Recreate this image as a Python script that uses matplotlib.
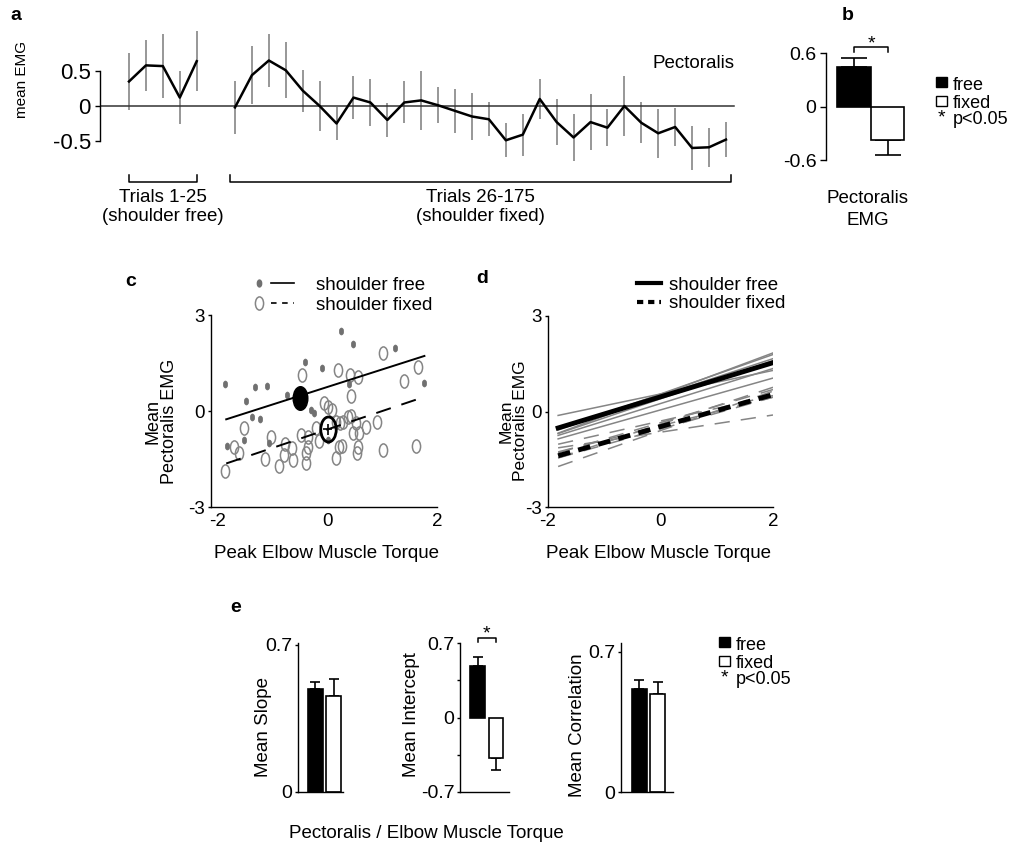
import numpy as np
import matplotlib.pyplot as plt
from matplotlib.lines import Line2D
from matplotlib.patches import Rectangle
from matplotlib.path import Path
from matplotlib.transforms import Affine2D

plt.rcParams['font.family'] = ['Liberation Sans', 'DejaVu Sans']
plt.rcParams['lines.scale_dashes'] = False
plt.rcParams['axes.linewidth'] = 1.0

# ---- a: mean EMG in blocks of 5 trials
emg_free = [0.35, 0.58, 0.57, 0.12, 0.64]
err_free = [0.41, 0.36, 0.46, 0.38, 0.43]
emg_fixed = [-0.02, 0.44, 0.65, 0.51, 0.22, 0.0, -0.25, 0.12, 0.05, -0.20,
             0.05, 0.08, 0.01, -0.07, -0.15, -0.19, -0.49, -0.41, 0.10, -0.23,
             -0.45, -0.23, -0.31, 0.0, -0.24, -0.39, -0.30, -0.60, -0.59, -0.48]
err_fixed = [0.38, 0.41, 0.38, 0.40, 0.30, 0.36, 0.24, 0.31, 0.34, 0.24,
             0.30, 0.42, 0.26, 0.31, 0.34, 0.24, 0.24, 0.30, 0.28, 0.33,
             0.33, 0.40, 0.26, 0.43, 0.29, 0.35, 0.27, 0.32, 0.28, 0.25]

# ---- b: pectoralis EMG free / fixed
pect_mean = [0.45, -0.375]
pect_err = [0.094, 0.172]

# ---- c: single trials (x = peak elbow torque, y = mean pectoralis EMG)
free_x = [0.25, 0.46, -0.41, -0.10, 1.23, 1.77, -1.87, -1.32, -1.11, -1.48,
          -0.74, 0.39, -0.31, -0.25, -1.38, -1.23, -1.53, -1.84, -1.07, 0.00]
free_y = [2.51, 2.08, 1.54, 1.35, 1.98, 0.89, 0.83, 0.74, 0.78, 0.32,
          0.50, 0.84, 0.03, -0.05, -0.20, -0.26, -0.91, -1.09, -0.99, -0.92]
fixed_x = [1.01, 1.66, -0.46, 0.19, 0.41, 0.55, 1.40, 0.43, -0.07, 0.01,
           0.09, -1.52, -1.70, -1.61, -1.87, -1.04, -1.15, -0.77, -0.80, -0.65,
           -0.63, -0.49, -0.40, -0.39, -0.36, -0.21, -0.15, 0.16, 0.22, 0.28,
           0.37, 0.43, 0.52, 0.70, 0.91, 0.46, 0.57, 0.55, 0.54, 0.15,
           0.21, 0.27, 1.01, 1.62, -0.88, -0.35]
fixed_y = [1.80, 1.39, 1.13, 1.28, 1.13, 1.05, 0.95, 0.47, 0.26, 0.11,
           0.03, -0.54, -1.11, -1.30, -1.86, -0.82, -1.51, -1.03, -1.38, -1.17,
           -1.53, -0.75, -1.30, -1.64, -1.11, -0.52, -0.93, -0.33, -0.39, -0.33,
           -0.20, -0.16, -0.36, -0.51, -0.33, -0.70, -0.70, -1.11, -1.30, -1.48,
           -1.11, -1.08, -1.22, -1.09, -1.72, -0.80]
# group means (x, y, xerr, yerr)
mean_free = (-0.50, 0.40, 0.14, 0.0)
mean_fixed = (0.0, -0.57, 0.09, 0.17)
# regression fits: slope, intercept, x range
fit_free = (0.547, 0.752, -1.85, 1.77)
fit_fixed = (0.575, -0.576, -1.85, 1.63)

# ---- d: per subject regression lines
subj_slope_free = [0.37, 0.62, 0.66, 0.58, 0.55, 0.50, 0.60]
subj_icpt_free = [0.55, 0.55, 0.52, 0.50, 0.25, 0.05, 0.40]
subj_slope_fixed = [0.27, 0.62, 0.52, 0.45, 0.58, 0.40, 0.50]
subj_icpt_fixed = [-0.65, -0.60, -0.35, -0.45, -0.40, -0.30, -0.55]
avg_free = (0.537, 0.46)
avg_fixed = (0.503, -0.475)
torque_range = (-1.82, 2.0)

# ---- e: summary bars (free, fixed)
slope_mean = [0.49, 0.459]
slope_err = [0.036, 0.078]
icpt_mean = [0.485, -0.38]
icpt_err = [0.085, 0.116]
corr_mean = [0.514, 0.489]
corr_err = [0.045, 0.06]

W, H = 1011, 850
GREY = '#858585'


def box(x0, y0, x1, y1):
    return [x0 / W, 1 - y1 / H, (x1 - x0) / W, (y1 - y0) / H]


def fx(x):
    return x / W


def fy(y):
    return 1 - y / H


def clean(ax, bottom=True):
    ax.spines['top'].set_visible(False)
    ax.spines['right'].set_visible(False)
    ax.spines['bottom'].set_visible(bottom)
    ax.set_facecolor('none')


ellipse = Path.unit_circle().transformed(Affine2D().scale(0.62, 1.0))

fig = plt.figure(figsize=(W / 100, H / 100), dpi=100)


def label(x, y, s):
    fig.text(fx(x), fy(y), s, fontsize=14, fontweight='bold', ha='center', va='center')


def txt(x, y, s, size=13.5, **kw):
    kw.setdefault('ha', 'left')
    kw.setdefault('va', 'center_baseline')
    fig.text(fx(x), fy(y), s, fontsize=size, **kw)


# ================= a =================
ax = fig.add_axes(box(100, 25, 740, 175))
clean(ax, bottom=False)
x_free = np.arange(len(emg_free))
x_fixed = np.arange(len(emg_fixed)) + len(emg_free) + 1.26
ax.errorbar(x_free, emg_free, yerr=err_free, fmt='none', ecolor='#8f8f8f', elinewidth=1.3, zorder=1)
ax.errorbar(x_fixed, emg_fixed, yerr=err_fixed, fmt='none', ecolor='#8f8f8f', elinewidth=1.3, zorder=1)
ax.axhline(0, xmin=0, xmax=0.99, color='#333333', lw=1.1, zorder=2)
ax.plot(x_free, emg_free, color='k', lw=1.8, zorder=3)
ax.plot(x_fixed, emg_fixed, color='k', lw=1.8, zorder=3)
ax.set_xlim(-1.713, 36.09)
ax.set_ylim(-0.986, 1.157)
ax.spines['left'].set_bounds(-0.5, 0.5)
ax.set_yticks([-0.5, 0, 0.5])
ax.set_yticklabels(['-0.5', '0', '0.5'])
ax.set_xticks([])
ax.tick_params(axis='y', direction='out', length=3.6, width=1, pad=3, labelsize=16)
tr = ax.get_xaxis_transform()
for x0, x1 in [(x_free[0], x_free[-1]), (x_fixed[0] - 0.3, x_fixed[-1] + 0.3)]:
    ax.plot([x0, x0, x1, x1], [0.0, -0.045, -0.045, 0.0], transform=tr,
            color='k', lw=1.1, clip_on=False)
ax.text(x_free.mean(), -0.095, 'Trials 1-25\n(shoulder free)', transform=tr,
        ha='center', va='top', fontsize=13.5, linespacing=1.1)
ax.text(x_fixed.mean(), -0.095, 'Trials 26-175\n(shoulder fixed)', transform=tr,
        ha='center', va='top', fontsize=13.5, linespacing=1.1)
txt(734, 62, 'Pectoralis', ha='right')
txt(22, 79, 'mean EMG', size=11, rotation=90, ha='center', va='center')
label(16, 16, 'a')

# ================= b =================
axb = fig.add_axes(box(826, 35, 905, 170))
clean(axb, bottom=False)
axb.bar([0, 1], pect_mean, width=1, color=['k', 'w'], edgecolor='k', lw=1.2, zorder=2)
for i, (m, e) in enumerate(zip(pect_mean, pect_err)):
    yerr = [[0], [e]] if m >= 0 else [[e], [0]]
    axb.errorbar([i], [m], yerr=yerr, fmt='none', ecolor='k', elinewidth=1.2,
                 capsize=9.4, capthick=1.2, zorder=1)
axb.plot([0, 0, 1, 1], [0.615, 0.665, 0.665, 0.615], color='k', lw=1.1, clip_on=False)
axb.set_xlim(-0.839, 1.519)
axb.set_ylim(-0.71, 0.804)
axb.spines['left'].set_bounds(-0.6, 0.6)
axb.set_yticks([-0.6, 0, 0.6])
axb.set_yticklabels(['-0.6', '0', '0.6'])
axb.set_xticks([])
axb.tick_params(axis='y', direction='out', length=4, width=1, pad=3, labelsize=14)
txt(871, 48, '*', size=14, ha='center', va='baseline')
label(848, 16, 'b')
txt(868, 197, 'Pectoralis', ha='center')
txt(868, 219, 'EMG', ha='center')


# legend b / e
def bar_legend(x, y):
    fig.add_artist(Rectangle((fx(x), fy(y + 10)), 10.5 / W, 10 / H, transform=fig.transFigure,
                             facecolor='k', edgecolor='k', lw=1))
    fig.add_artist(Rectangle((fx(x), fy(y + 28.5)), 10.5 / W, 10 / H, transform=fig.transFigure,
                             facecolor='w', edgecolor='k', lw=1))
    txt(x + 17, y + 6, 'free', size=13)
    txt(x + 17, y + 24, 'fixed', size=13)
    txt(x + 5, y + 45, '*', size=14, ha='center', va='baseline')
    txt(x + 17, y + 40, 'p<0.05', size=13)


bar_legend(936, 77)

# ================= c =================
axc = fig.add_axes(box(211, 315, 437, 507))
clean(axc)
axc.plot(fixed_x, fixed_y, ls='none', marker=ellipse, ms=9.5, mfc='none', mec=GREY, mew=1.1, zorder=2)
axc.plot(free_x, free_y, ls='none', marker=ellipse, ms=5, mfc='#707070', mec='#707070', mew=0.5, zorder=3)
for (s, b, x0, x1), ls in [(fit_free, '-'), (fit_fixed, (0, (11, 8)))]:
    xs = np.array([x0, x1])
    axc.plot(xs, s * xs + b, color='k', lw=1.4, ls=ls, zorder=4)
axc.errorbar([mean_free[0]], [mean_free[1]], xerr=[mean_free[2]], fmt='none', ecolor='k', elinewidth=1.2, zorder=5)
axc.plot([mean_free[0]], [mean_free[1]], marker=ellipse, ms=17, mfc='k', mec='k', zorder=6)
axc.errorbar([mean_fixed[0]], [mean_fixed[1]], xerr=[mean_fixed[2]], yerr=[mean_fixed[3]],
             fmt='none', ecolor='k', elinewidth=1.2, zorder=5)
axc.plot([mean_fixed[0]], [mean_fixed[1]], marker=ellipse, ms=18, mfc='none', mec='k', mew=2, zorder=6)
axc.set_xlim(-2.128, 2.0)
axc.set_ylim(-3, 3)
axc.set_xticks([-2, 0, 2])
axc.set_xticklabels(['-2', '0', '2'])
axc.set_yticks([-3, 0, 3])
axc.set_yticklabels(['-3', '0', '3'])
axc.tick_params(axis='x', length=0, pad=4, labelsize=13.5)
axc.tick_params(axis='y', direction='out', length=2.5, width=1, pad=2, labelsize=13.5)
txt(161, 421, 'Mean\nPectoralis EMG', rotation=90, ha='center', va='center', linespacing=0.95, size=13)
txt(327, 552, 'Peak Elbow Muscle Torque', ha='center')
label(131, 282, 'c')
fig.add_artist(Line2D([fx(259)], [fy(283)], transform=fig.transFigure, ls='none', marker=ellipse,
                      ms=5, mfc='#707070', mec='#707070'))
fig.add_artist(Line2D([fx(271), fx(294)], [fy(283), fy(283)], transform=fig.transFigure, color='k', lw=1.2))
fig.add_artist(Line2D([fx(259)], [fy(303)], transform=fig.transFigure, ls='none', marker=ellipse,
                      ms=9.5, mfc='none', mec=GREY, mew=1.1))
fig.add_artist(Line2D([fx(271), fx(294)], [fy(303), fy(303)], transform=fig.transFigure, color='k', lw=1.2,
                      ls=(0, (4, 4))))
txt(316, 283, 'shoulder free')
txt(316, 303, 'shoulder fixed')

# ================= d =================
axd = fig.add_axes(box(548, 316, 773, 507))
clean(axd)
xs = np.array(torque_range)
for s, b in zip(subj_slope_free, subj_icpt_free):
    axd.plot(xs, s * xs + b, color=GREY, lw=1.1, zorder=2)
for s, b in zip(subj_slope_fixed, subj_icpt_fixed):
    axd.plot(xs, s * xs + b, color=GREY, lw=1.1, ls=(0, (11, 8)), zorder=2)
axd.plot(xs, avg_free[0] * xs + avg_free[1], color='k', lw=3.5, zorder=3)
axd.plot(xs, avg_fixed[0] * xs + avg_fixed[1], color='k', lw=3.5, ls=(0, (9, 6)), zorder=3)
axd.set_xlim(-2, 2)
axd.set_ylim(-3, 3)
axd.set_xticks([-2, 0, 2])
axd.set_xticklabels(['-2', '0', '2'])
axd.set_yticks([-3, 0, 3])
axd.set_yticklabels(['-3', '0', '3'])
axd.tick_params(axis='x', length=0, pad=4, labelsize=13.5)
axd.tick_params(axis='y', direction='out', length=2.5, width=1, pad=2, labelsize=13.5)
txt(513, 421, 'Mean\nPectoralis EMG', rotation=90, ha='center', va='center', linespacing=0.95, size=12.5)
txt(658, 552, 'Peak Elbow Muscle Torque', ha='center')
label(482, 278, 'd')
fig.add_artist(Line2D([fx(637), fx(661)], [fy(283), fy(283)], transform=fig.transFigure, color='k', lw=3))
fig.add_artist(Line2D([fx(637), fx(661)], [fy(302), fy(302)], transform=fig.transFigure, color='k', lw=3,
                      ls=(0, (4.5, 3.5))))
txt(669, 283, 'shoulder free')
txt(669, 302, 'shoulder fixed')


# ================= e =================
def summary(pbox, means, errs, xlim, ylim, ticks, ticklabels, minor=None):
    a = fig.add_axes(box(*pbox))
    clean(a)
    a.bar([0, 1], means, width=0.8, color=['k', 'w'], edgecolor='k', lw=1.2, zorder=2)
    for i, (m, e) in enumerate(zip(means, errs)):
        yerr = [[0], [e]] if m >= 0 else [[e], [0]]
        a.errorbar([i], [m], yerr=yerr, fmt='none', ecolor='k', elinewidth=1.2,
                   capsize=3.4, capthick=1.2, zorder=1)
    a.set_xlim(*xlim)
    a.set_ylim(*ylim)
    a.set_xticks([])
    a.set_yticks(ticks)
    a.set_yticklabels(ticklabels)
    if minor is not None:
        a.set_yticks(minor, minor=True)
        a.tick_params(axis='y', which='minor', direction='out', length=2.5, width=1)
    a.tick_params(axis='y', direction='out', length=2.5, width=1, pad=1.5, labelsize=14)
    return a


summary((297.7, 643, 343, 792), slope_mean, slope_err, (-0.967, 1.508), (0, 0.7095),
        [0, 0.7], ['0', '0.7'])
axi = summary((460, 643, 509, 792), icpt_mean, icpt_err, (-0.978, 1.73), (-0.7, 0.7),
              [-0.7, 0, 0.7], ['-0.7', '0', '0.7'], minor=[-0.35, 0.35])
axi.plot([0, 0, 1, 1], [0.71, 0.745, 0.745, 0.71], color='k', lw=1.1, clip_on=False)
summary((621, 642.7, 672.7, 792.3), corr_mean, corr_err, (-0.995, 1.83), (0, 0.745),
        [0, 0.7], ['0', '0.7'])
txt(486.7, 638, '*', size=14, ha='center', va='baseline')
txt(263, 727, 'Mean Slope', rotation=90, ha='center', va='center')
txt(412, 715, 'Mean Intercept', rotation=90, ha='center', va='center')
txt(578, 725, 'Mean Correlation', rotation=90, ha='center', va='center')
txt(426, 832, 'Pectoralis / Elbow Muscle Torque', ha='center')
label(236, 608, 'e')
bar_legend(719, 637)

fig.savefig('out.png', dpi=100)
